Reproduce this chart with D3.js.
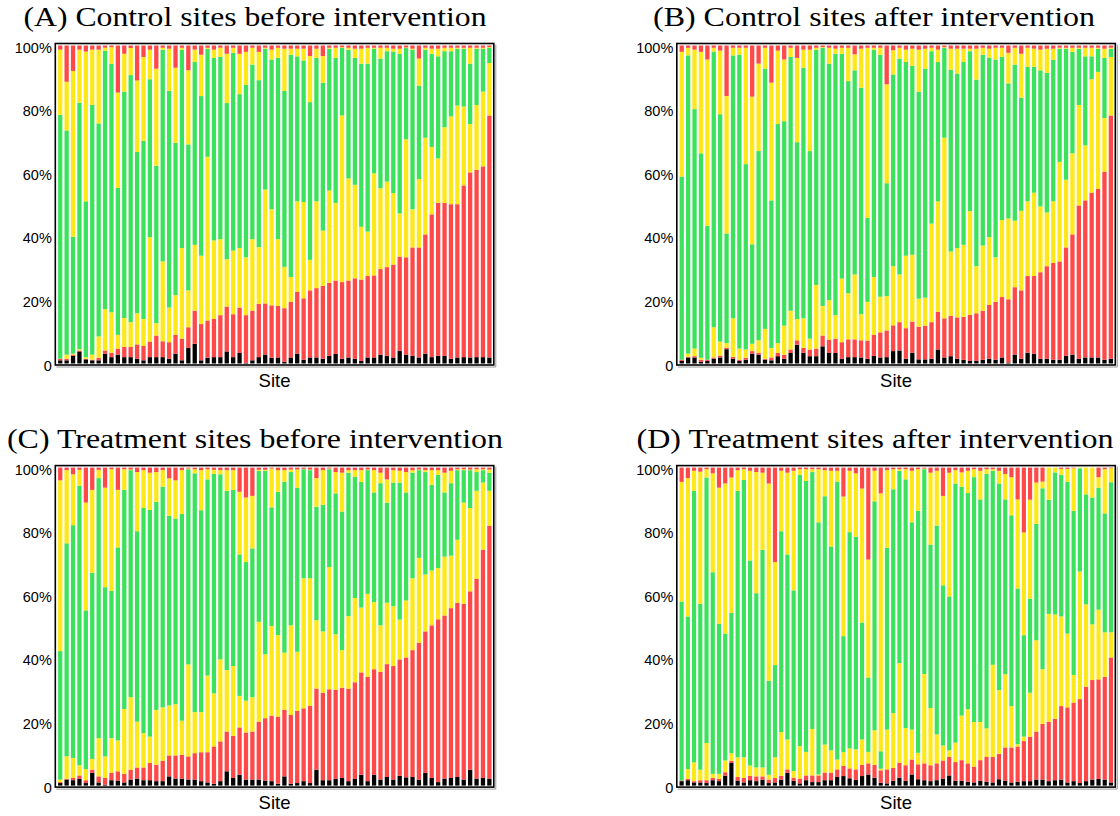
<!DOCTYPE html>
<html>
<head>
<meta charset="utf-8">
<script src="https://cdn.jsdelivr.net/npm/d3@7/dist/d3.min.js"></script>
<style>
  body { margin: 0; background: #fff; }
  svg { display: block; }
</style>
</head>
<body>
<svg id="chart" width="1120" height="816"></svg>
<script>
// Each array holds, per site, the cumulative top (%) of a band:
// black (missing), red (low), yellow (low), green, yellow (high); red (high) fills to 100.

// (A) Control sites before intervention
const aBlack  = [1,1,2.4,3.8,1.3,1,1,3.1,2,2.8,2,2,1.5,1,2,2,2,1.5,3.1,1,4.9,6.2,1,1.8,2,2,3.8,2,3.3,0.2,1,2,2.8,1.8,1.9,0.5,1.9,3.1,1.2,1.9,1.9,1.5,2.4,3,1.5,1.9,1.5,0.8,1.9,1.9,2.8,2.4,1.9,4,2.8,2.4,1.9,3.1,2,2.4,2.4,1.5,1.9,2,1.9,2,2,1.9];
const aRed    = [1.5,1.5,2.8,4.1,1.5,1.2,1.8,4.1,3.4,4.7,5.2,5.2,6,5.5,6.9,8.8,7,6.7,9,7.8,11.4,16.6,12.4,13.5,14,15.2,17.9,15.5,17.6,15.2,16.6,18.7,18.9,18.3,18.1,17.4,19.4,22.5,20.5,23,23.7,24.4,25.4,26.1,25.6,26.1,26.8,26.4,27.5,27.7,29.7,30.3,31.1,33.6,33.4,36.5,36.5,40.6,46.9,50.5,50.5,50.1,50.1,56,60.1,60.9,62,78];
const aYellow = [1.5,2.8,3.1,4.5,2,2.8,8.5,17.1,16.1,9,14.3,13,15.8,14,39.7,12.7,32.1,17.6,21.5,36.3,23,37.3,33.9,65,38.7,39.1,32.8,35.5,36.3,33.4,39.1,36.6,54.7,48.5,39.1,30.4,27.2,51,50.8,32.6,51,41.8,54.4,50.5,78,58.2,56.2,43,41.5,59.8,55.1,57.2,53.6,47.2,70.5,48.5,58,71,68.1,64.5,74.3,77.7,81.1,80.8,75.3,81.3,85.5,94.5];
const aGreen  = [78.2,73.3,39.9,82,51,81.3,75.5,98.3,94.3,55.2,85.5,90.7,66.5,70,89.4,62.2,98.7,85.7,69.4,98.7,68.9,94.8,84.1,99,96.1,96.4,81.9,97.7,84.7,87.6,94,89.1,99,95.6,96.1,85.7,97.1,96.6,95.3,82.2,96.1,88.3,99,96.1,99.3,98.7,96.1,94.3,94.3,99,95.9,98.2,98.1,97.4,99.2,98.7,87.4,98.7,97.4,96.6,98.2,98.2,99,99,94.3,99,99,99.3];
const aYellow2= [98.7,88.6,92,98.7,98.1,98.7,98.7,99.3,99.5,85.2,97.4,99.2,89,96.4,98.7,92.7,99.3,99,93,99.3,92.2,98.7,97.1,99.3,98.7,99.3,97.4,99.3,97.4,98,99.3,98,99.3,98.7,99.3,99,99,99,99,96.7,99,96.7,99.3,99.3,99.5,99.3,99,99,99.3,99.3,99.3,99.3,99,99,99.4,99,95.9,99.3,99,99,99.3,99.3,99.3,99.3,99.3,99.3,99.3,99.5];

// (B) Control sites after intervention
const bBlack  = [0.8,1.9,1.9,0.5,0.8,1.5,1.9,4.5,1.5,0.8,1.2,3.1,2.8,1.2,1,2.3,1.5,3.3,5.9,3.4,2.3,2.3,5.4,3.3,3.3,1.5,2,2,1.9,1.5,2.4,1.9,2,3.9,4.1,1.5,3.4,1.3,1.3,1.5,4.4,1.9,2.3,1.5,1.2,0.8,0.8,1.2,1.5,1.2,1.9,0.3,2.8,1.5,3.4,3.1,1.5,1.5,1.2,1.2,2.4,2.8,1.5,1.9,1.9,1.9,1.2,1.5];
const bRed    = [1.2,2.1,2.3,1.2,1.2,1.9,2.5,5,2.1,1.2,1.8,3.9,3.4,1.5,1.9,3.3,2.8,4.4,7.3,4.9,4.4,4.7,8.8,7.5,7.8,6.7,7.6,7.6,7.3,7.2,9,9.8,10.4,12,13,11.1,13.2,11.6,11.9,13,16.3,14.2,15,14.5,14.7,15.3,15.8,16.6,18.4,19.4,20.9,20.2,24,23,27.5,27.5,28.7,30.6,31.6,32.1,36.5,40.6,49.7,51.3,53.7,54.9,60.3,78];
const bYellow = [1.2,3.1,4.7,1.8,1.2,11.4,6.9,6.4,14.2,4.7,4.4,6.2,7.3,10.9,4.9,6.4,11.9,16.6,14,14.2,7.8,24.7,18.1,19.9,15.2,26.7,22.1,28,15.5,19.4,27.2,21,21.2,30.6,28,33.9,34.2,20.4,20.7,44,51,71,35.2,36.3,37.3,47.9,30.6,37.1,39.7,33.4,45.1,45.6,44.9,48,51,53.7,49.4,47.5,51,63.4,57.8,66.1,81.3,68.6,89.4,91.7,77.2,96.4];
const bGreen  = [58.8,96.9,80,66.1,43.3,98.1,78.4,40.9,96.9,97.1,62.7,37.5,66.8,92.7,51.3,75.3,76.2,96.4,69.6,93,66.8,98.7,99.3,94.3,97.4,97.4,88.8,92.2,86.7,45.8,98.7,97.1,56.7,90.9,95.9,94.8,93.6,85.5,92.7,98.2,94.8,99.3,92.4,91.2,94.8,98.2,89.3,97.1,96.2,95.6,96.4,88.1,94,83.6,93.3,93.3,92.2,91.4,95.5,99,99,98,99,96.6,96.6,99,96.1,99];
const bYellow2= [98,99.3,98.7,98,95.6,99.3,98.4,84.1,99.3,99.3,99.3,83.9,94.3,99.3,88.3,98.4,95.6,99.3,96.1,98.7,98.7,99.3,99.5,99.3,99,99.3,99.3,97.2,99,99.3,99.3,99.3,87.8,98.5,99.3,98.7,99,98.7,99,99.3,98.7,99.5,99,99,99,99,99,99.3,99,99.3,99.3,97.7,99.3,97.4,99.3,99,98.7,99,99,99.3,99.3,99.3,99.3,99.3,99.3,99.3,99,99.3];

// (C) Treatment sites before intervention
const cBlack  = [0.8,1.9,1.7,2.1,0.8,4,1,0.3,1.7,1.6,1,1.9,2.2,1.7,1.7,1.4,1.4,2.9,2.2,2.2,1.9,1.9,1.4,1,0.6,1.4,4.5,2.4,3.4,1.9,1.9,1.9,1.6,1.4,0.6,2.9,0.6,0.8,1.4,0.8,5,1.7,1.7,2.1,2.4,1.4,2.1,3.4,1.4,3.4,1.9,2.7,1.9,3.1,2.6,2.7,1.9,4,2.4,1.1,2.2,2.4,2.7,1.9,5,2.2,2.4,2.2];
const cRed    = [1.1,2.1,2.4,3.2,1.7,5,2.9,2.4,4,4.5,3.7,5,5.7,5.7,7.1,6.6,7.8,9.5,9.5,9.7,9.2,10.2,10.5,10.5,12.3,13.9,17,15.7,18.3,16.7,17,20.1,21.2,22,21.7,23.8,22.2,23.5,24.3,25.1,30.5,29.2,30.3,30.1,30.8,30.5,32.5,35.6,34.2,36.6,35.8,38.2,37.6,39.7,40.3,42.6,44.9,48.5,50.4,52.3,53.5,55.8,57.5,57.2,61.1,65,74.2,81.7];
const cYellow = [1.9,9.2,8.7,6.4,5.2,8.4,14.9,9.2,14.9,14.2,24.1,27.8,20.1,16.5,15.4,23.8,24.6,25.2,25.6,20.4,38.1,23.1,23.1,34.6,29,39.7,36.3,37.6,28.2,26.7,27.8,51.5,41.3,50.2,47.3,41.8,50.4,42.1,65.2,65.2,52,48.5,68.7,47.6,42.6,53.3,59,56,60.3,57.7,50.4,57.5,56.4,52.2,58.2,65.2,71.6,66.4,67.6,68.4,72,72.3,77.3,89,87.3,92.7,95.3,92.7];
const cGreen  = [42.3,76.2,81.9,94.3,55.1,66.9,96.7,62.4,61.2,74.9,93,99.2,80,87.3,86.7,89.2,94,84.9,84,85.4,99.5,98.2,86.6,96.3,98,97.9,92.7,93,72.7,70.3,74.6,99,99,87.5,92.4,95.6,98.6,93.7,99.5,99.2,87.7,88.3,99.5,91.9,86.2,98.4,97.1,95.5,99.2,92.2,95.1,89,95.3,95.3,92.2,98.4,99.2,98.6,94.6,97.7,92.2,95.1,99.2,99.2,99.2,98.6,99.2,98.4];
const cYellow2= [96,99.2,97.9,99.3,89,93,99.3,93.7,99.5,93,99.5,99.4,98.6,99.2,98.4,98.6,99.2,96.6,96,99.2,99.7,99.5,99.2,99.5,99.3,99.2,99.2,99.2,92.4,90.6,91.1,99.3,99.3,99.7,99.2,99.2,99.4,99.4,99.6,99.4,96.7,99.2,99.7,98.6,98.4,99.2,99.2,99.2,99.4,99.2,98.4,96.3,99.2,99,98.6,99.2,99.4,99.2,99.2,99.2,98.4,99,99.5,99.5,99.4,99.5,99.5,99.4];

// (D) Treatment sites after intervention
const dBlack  = [1.4,1.7,1,1,0.8,1.7,1.4,3.1,7.1,1.6,1,1.7,1.4,1.9,0.8,1,1.9,4,1.5,0.7,1.7,1.1,1.1,1.7,1.7,2.7,3,2.3,1.8,3,3.5,2.5,0.9,0.7,1.5,2.5,1.5,3.5,2,1.7,1.4,1.7,2.2,3.2,1.5,1.5,1.2,1,1.5,1.2,1,2,1.5,1,1.2,1.4,1.4,1.9,1.9,1.4,1.7,1.9,1,1.4,0.8,1.4,1.9,2.1,1.9,1];
const dRed    = [1.6,2.1,1.4,1.7,1.7,2.4,2.1,4.2,7.8,2.7,2.4,3.1,2.9,2.9,1.9,2.4,3.1,5.1,2.5,2.2,3.2,3.2,3.2,4.1,4.1,5.1,6.2,5.4,5.1,6.5,7,6.5,4.8,5.1,5.6,7.2,6.4,8.2,6.7,7,6.4,7,7.9,9,7.4,8,7,6,8,9,9,10,12,12,12.3,14,15.4,17,19.4,20.1,21,25,24.6,26.1,27.2,31.1,33.2,33.4,34.2,40.3];
const dYellow = [1.6,5.2,7.3,5,13.4,3.7,3.7,7.9,10.2,8.9,8.9,6.3,5.7,5.7,3.4,8.9,16.8,14.5,4.6,12.4,10.6,17.8,3.5,12.9,11.1,8.2,10.5,11.7,11.4,14.5,10.6,17.4,5.3,17.6,22.8,38.5,18.1,17.6,10.3,35.1,24.4,16.1,12.6,11.1,13.5,22,24,20,20,18,38,30,35,25,13,15.4,29.2,45.7,36.6,54,53.8,53.2,47.8,34.8,67.3,57,50.7,55.3,48.2,48.2];
const dGreen  = [57.9,53.2,92.7,57.2,96.9,67.1,50.9,47.8,54.3,92.7,96.1,70.8,60.5,74.1,33,37.9,80,72.7,61.4,97.7,95.8,98.6,82.8,91,75.2,95.6,47,79.7,78.3,51.3,34,89.4,10.8,74.8,93.2,99,96.3,82.8,86.4,99.5,75.8,81.8,63,59.5,95,94,92,97,90,98,99,95,90,85,62,47.3,58.8,82.3,93.5,89.9,98.5,97.7,95.6,86.4,99.8,91.6,90.6,93.7,85.6,95.4];
const dYellow2= [95.5,96.7,99,98.7,99.5,98.2,93.7,95,96.9,99.2,99.5,99,98.6,98.4,95,70.3,99,98.4,99,99.5,99.5,99.5,99.5,99.2,99,99,90.9,99,98.2,93.4,71.1,99,91.9,99.2,99.5,99.5,99.5,99,99.5,99.7,98.4,99,91.1,98.4,99.2,98.5,99,99.5,99,99.5,99.5,99,98,97,90,79.6,89.9,95.3,95.6,100,100,99.6,99.6,99.8,100,100,100,97,99.5,99.8];

const titles = [
  "(A) Control sites before intervention",
  "(B) Control sites after intervention",
  "(C) Treatment sites before intervention",
  "(D) Treatment sites after intervention"
];
const yTicks = [0, 0.2, 0.4, 0.6, 0.8, 1];
const keys = ["missing", "redLow", "yellowLow", "green", "yellowHigh", "redHigh"];
const colors = {
  missing: "#000000", redLow: "#ff4848", yellowLow: "#ffe819",
  green: "#3ce15c", yellowHigh: "#ffe819", redHigh: "#ff4848"
};

// turn cumulative tops into per-band shares
function toRows(tops) {
  return tops[0].map((_, i) => {
    const t = [0].concat(tops.map(a => a[i]), [100]);
    const row = { site: i + 1 };
    keys.forEach((k, j) => row[k] = Math.max(0, t[j + 1] - t[j]));
    return row;
  });
}

const panels = [
  { title: titles[0], rows: toRows([aBlack, aRed, aYellow, aGreen, aYellow2]), x0: 55.3, y0: 43.5, tw: 463, tx: 255 },
  { title: titles[1], rows: toRows([bBlack, bRed, bYellow, bGreen, bYellow2]), x0: 676.8, y0: 43.5, tw: 442, tx: 874 },
  { title: titles[2], rows: toRows([cBlack, cRed, cYellow, cGreen, cYellow2]), x0: 55.3, y0: 465.6, tw: 496, tx: 255 },
  { title: titles[3], rows: toRows([dBlack, dRed, dYellow, dGreen, dYellow2]), x0: 676.8, y0: 465.6, tw: 477, tx: 875 }
];

const W = 438.5, H = 321.5;
const svg = d3.select("#chart");
const stack = d3.stack().keys(keys).offset(d3.stackOffsetExpand);

panels.forEach(p => {
  const g = svg.append("g");
  const x = d3.scaleBand()
    .domain(p.rows.map(d => d.site))
    .range([p.x0 + 1.5, p.x0 + W - 1])
    .paddingInner(0.33)
    .paddingOuter(0.2);
  const y = d3.scaleLinear()
    .domain([0, 1])
    .range([p.y0 + H - 1.5, p.y0 + 2]);

  const series = stack(p.rows);
  g.selectAll("g.layer")
    .data(series)
    .enter().append("g")
    .attr("class", "layer")
    .attr("fill", d => colors[d.key])
    .selectAll("rect")
    .data(d => d)
    .enter().append("rect")
    .attr("x", d => x(d.data.site))
    .attr("width", x.bandwidth())
    .attr("y", d => y(d[1]))
    .attr("height", d => Math.max(0, y(d[0]) - y(d[1])));

  // frame with a faint shadow line on the right and bottom
  g.append("path")
    .attr("d", `M${p.x0 + W + 2},${p.y0 + 1}V${p.y0 + H + 2}H${p.x0 + 1}`)
    .attr("fill", "none").attr("stroke", "#9a9a9a").attr("stroke-width", 1);
  g.append("rect")
    .attr("x", p.x0).attr("y", p.y0)
    .attr("width", W).attr("height", H)
    .attr("fill", "none").attr("stroke", "#000").attr("stroke-width", 1.6);

  // y tick labels, no tick marks
  const yAxis = d3.axisLeft(y)
    .tickValues(yTicks)
    .tickSize(0)
    .tickPadding(3.5)
    .tickFormat(d => d === 0 ? "0" : d3.format(".0%")(d));
  g.append("g")
    .attr("transform", `translate(${p.x0},0)`)
    .call(yAxis)
    .call(a => a.select(".domain").remove())
    .selectAll("text")
    .attr("dy", "0.45em")
    .style("font-family", "'Liberation Sans', Arial, sans-serif")
    .style("font-size", "14.5px")
    .attr("fill", "#000");

  g.append("text")
    .attr("x", p.x0 + W / 2)
    .attr("y", p.y0 + H + 22)
    .attr("text-anchor", "middle")
    .style("font-family", "'Liberation Sans', Arial, sans-serif")
    .style("font-size", "18.5px")
    .text("Site");

  g.append("text")
    .attr("x", p.tx)
    .attr("y", p.y0 - 17.5)
    .attr("text-anchor", "middle")
    .attr("textLength", p.tw)
    .attr("lengthAdjust", "spacingAndGlyphs")
    .style("font-family", "'Liberation Serif', 'Times New Roman', serif")
    .style("font-size", "27px")
    .text(p.title);
});
</script>
</body>
</html>
